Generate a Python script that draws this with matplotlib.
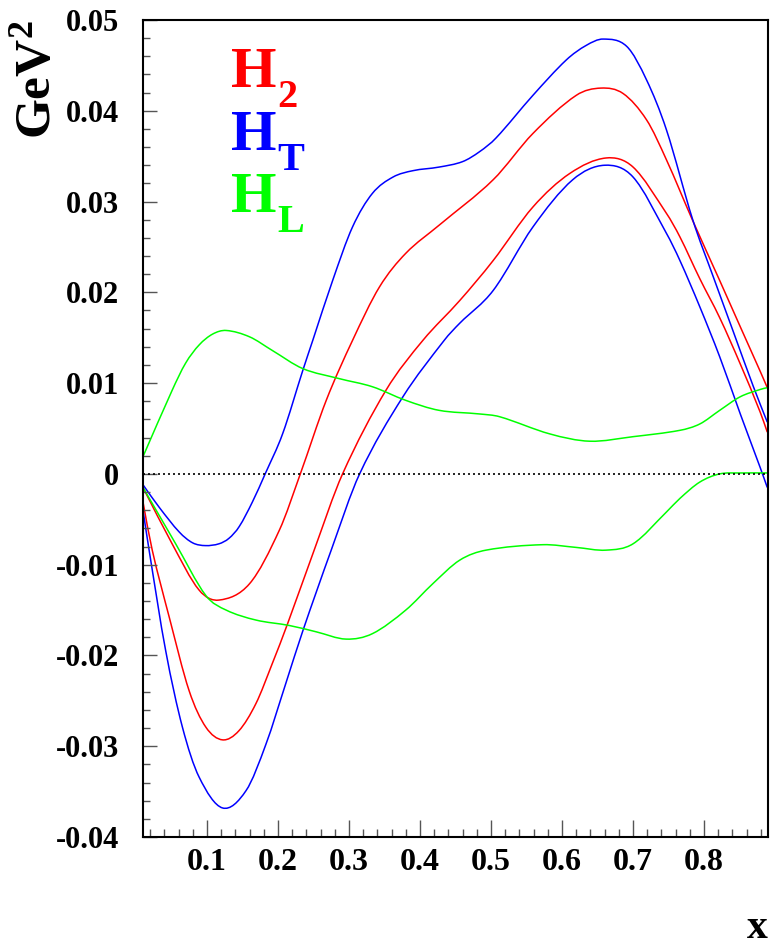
import matplotlib
matplotlib.use("Agg")
import numpy as np
import matplotlib.pyplot as plt
from matplotlib.path import Path
from matplotlib.patches import PathPatch
from matplotlib.ticker import MultipleLocator, FixedLocator

plt.rcParams['font.family'] = ['Liberation Serif', 'DejaVu Serif']
plt.rcParams['font.weight'] = 'bold'
plt.rcParams['mathtext.fontset'] = 'custom'
plt.rcParams['mathtext.rm'] = 'Liberation Serif:bold'
plt.rcParams['mathtext.bf'] = 'Liberation Serif:bold'
plt.rcParams['mathtext.it'] = 'Liberation Serif:bold'

# H_T band (blue)
ht_up_x = [0.01, 0.033, 0.061, 0.080, 0.098, 0.117, 0.131, 0.1455, 0.164, 0.182, 0.2065, 0.235,
           0.249, 0.277, 0.305, 0.333, 0.362, 0.390, 0.427, 0.460, 0.484, 0.507, 0.559, 0.606,
           0.634, 0.658, 0.691, 0.719, 0.747, 0.784, 0.813, 0.841, 0.869, 0.889]
ht_up_y = [-0.0012, -0.0037, -0.0064, -0.0076, -0.0079, -0.0077, -0.0071, -0.0058, -0.0031, 0.0,
           0.0044, 0.0114, 0.0147, 0.0213, 0.0272, 0.0309, 0.0327, 0.0334, 0.0338, 0.0344, 0.0355,
           0.0370, 0.0417, 0.0456, 0.0472, 0.0479, 0.0471, 0.0434, 0.0379, 0.0280, 0.0217,
           0.0157, 0.0097, 0.0057]
ht_lo_x = [0.01, 0.0186, 0.042, 0.0655, 0.089, 0.122, 0.155, 0.183, 0.211, 0.235, 0.275, 0.315,
           0.376, 0.434, 0.456, 0.503, 0.559, 0.615, 0.660, 0.700, 0.747, 0.766, 0.794, 0.822,
           0.851, 0.879, 0.889]
ht_lo_y = [-0.0040, -0.0084, -0.0195, -0.0279, -0.0334, -0.0368, -0.0349, -0.0298, -0.0231,
           -0.0173, -0.0084, 0.0, 0.0085, 0.0147, 0.0166, 0.0202, 0.0272, 0.0324, 0.0340, 0.0327,
           0.0265, 0.0235, 0.0184, 0.0129, 0.0066, 0.0007, -0.0015]

# H_2 band (red)
h2_up_x = [0.01, 0.051, 0.089, 0.117, 0.16, 0.202, 0.2315, 0.268, 0.305, 0.343, 0.380, 0.427,
           0.503, 0.559, 0.62, 0.655, 0.686, 0.719, 0.747, 0.784, 0.822, 0.851, 0.879, 0.889]
h2_up_y = [-0.0015, -0.0077, -0.0128, -0.0139, -0.0121, -0.0062, 0.0, 0.0081, 0.0147, 0.0206,
           0.0243, 0.0274, 0.0324, 0.0375, 0.0417, 0.0425, 0.0419, 0.0390, 0.0346, 0.0279,
           0.0213, 0.0162, 0.0113, 0.0095]
h2_lo_x = [0.01, 0.023, 0.047, 0.075, 0.0985, 0.122, 0.145, 0.169, 0.192, 0.2136, 0.251, 0.291,
           0.352, 0.404, 0.456, 0.503, 0.559, 0.611, 0.662, 0.700, 0.747, 0.766, 0.794, 0.822,
           0.851, 0.879, 0.889]
h2_lo_y = [-0.0031, -0.0084, -0.0158, -0.0239, -0.0279, -0.0293, -0.0283, -0.0253, -0.0209,
           -0.0165, -0.0084, 0.0, 0.0092, 0.0147, 0.0191, 0.0235, 0.0294, 0.0331, 0.0348, 0.0338,
           0.0287, 0.0261, 0.0215, 0.0172, 0.0121, 0.0068, 0.0046]

# H_L band (green)
hl_up_x = [0.01, 0.051, 0.070, 0.089, 0.108, 0.127, 0.16, 0.192, 0.235, 0.286, 0.333, 0.380,
           0.427, 0.484, 0.512, 0.583, 0.639, 0.700, 0.766, 0.794, 0.822, 0.851, 0.879, 0.889]
hl_up_y = [0.0019, 0.0092, 0.0122, 0.0142, 0.0154, 0.0158, 0.0151, 0.0136, 0.0116, 0.0105,
           0.0096, 0.0081, 0.0070, 0.0066, 0.0063, 0.0044, 0.0036, 0.0041, 0.0048, 0.0055,
           0.0070, 0.0085, 0.0093, 0.0095]
hl_lo_x = [0.01, 0.056, 0.0985, 0.127, 0.169, 0.216, 0.254, 0.296, 0.333, 0.380, 0.418, 0.456,
           0.493, 0.573, 0.620, 0.662, 0.700, 0.747, 0.766, 0.794, 0.822, 0.851, 0.889]
hl_lo_y = [-0.0015, -0.0077, -0.0134, -0.0150, -0.0161, -0.0167, -0.0174, -0.0182, -0.0176,
           -0.0150, -0.0121, -0.0095, -0.0084, -0.0078, -0.0081, -0.0084, -0.0077, -0.0042,
           -0.0027, -0.0009, 0.0000, 0.0001, 0.0001]

x_ticks = [0.1, 0.2, 0.3, 0.4, 0.5, 0.6, 0.7, 0.8]
y_ticks = [-0.04, -0.03, -0.02, -0.01, 0.0, 0.01, 0.02, 0.03, 0.04, 0.05]
y_ticklabels = ['-0.04', '-0.03', '-0.02', '-0.01', '0', '0.01', '0.02', '0.03', '0.04', '0.05']

red = '#ff0000'
blue = '#0000ff'
green = '#00ff00'


def smooth_curve(ax, xs, ys, color, lw):
    # smooth line through the points (like ROOT's "C" option): cubic bezier segments
    x = np.asarray(xs, float)
    y = np.asarray(ys, float)
    n = len(x)
    m = np.empty(n)
    m[0] = (y[1] - y[0]) / (x[1] - x[0])
    m[-1] = (y[-1] - y[-2]) / (x[-1] - x[-2])
    m[1:-1] = (y[2:] - y[:-2]) / (x[2:] - x[:-2])
    verts = [(x[0], y[0])]
    codes = [Path.MOVETO]
    for i in range(n - 1):
        h = (x[i + 1] - x[i]) / 3.0
        verts += [(x[i] + h, y[i] + h * m[i]),
                  (x[i + 1] - h, y[i + 1] - h * m[i + 1]),
                  (x[i + 1], y[i + 1])]
        codes += [Path.CURVE4] * 3
    ax.add_patch(PathPatch(Path(verts, codes), fill=False, edgecolor=color, lw=lw,
                           transform=ax.transData))


fig = plt.figure(figsize=(7.7, 9.5), dpi=100)
ax = fig.add_axes([143 / 770, 1 - 837 / 950, 625 / 770, 817 / 950])

lw = 1.1
smooth_curve(ax, h2_up_x, h2_up_y, red, lw)
smooth_curve(ax, h2_lo_x, h2_lo_y, red, lw)
smooth_curve(ax, ht_up_x, ht_up_y, blue, lw)
smooth_curve(ax, ht_lo_x, ht_lo_y, blue, lw)
smooth_curve(ax, hl_up_x, hl_up_y, green, lw)
smooth_curve(ax, hl_lo_x, hl_lo_y, green, lw)
ax.axhline(0, color='black', lw=1.2, ls=(0, (1.2, 1.8)))

ax.set_xlim(0.01, 0.89)
ax.set_ylim(-0.04, 0.05)

ax.xaxis.set_major_locator(FixedLocator(x_ticks))
ax.xaxis.set_minor_locator(MultipleLocator(0.02))
ax.set_xticklabels([str(t) for t in x_ticks])
ax.yaxis.set_major_locator(FixedLocator(y_ticks))
ax.yaxis.set_minor_locator(MultipleLocator(0.002))
ax.set_yticklabels(y_ticklabels)

ax.tick_params(axis='both', which='both', direction='in', top=False, right=False,
               color='#555555', width=1.0)
ax.tick_params(axis='x', which='major', length=12, pad=8, labelsize=23)
ax.tick_params(axis='x', which='minor', length=6)
ax.tick_params(axis='y', which='major', length=10, pad=17, labelsize=22)
ax.tick_params(axis='y', which='minor', length=5)
for lab in ax.get_xticklabels() + ax.get_yticklabels():
    lab.set_fontweight('bold')
for sp in ax.spines.values():
    sp.set_linewidth(1.5)

fig.text(0.05, 1 - 20 / 950, r'$\mathbf{GeV}^{\mathbf{2}}$', rotation=90,
         ha='center', va='top', fontsize=37)
fig.text(757 / 770, 3 / 950, 'x', ha='center', va='bottom', fontsize=30,
         fontweight='bold')

# legend-like labels: big H plus a large, low subscript
labels = [('2', red, 87), ('T', blue, 150), ('L', green, 212)]
for sub, col, base in labels:
    fig.text(231 / 770, 1 - base / 950, 'H', color=col, fontsize=42, fontweight='bold',
             ha='left', va='baseline')
    fig.text(277 / 770, 1 - (base + 20) / 950, sub, color=col, fontsize=29, fontweight='bold',
             ha='left', va='baseline')

fig.savefig('out.png', dpi=100)
